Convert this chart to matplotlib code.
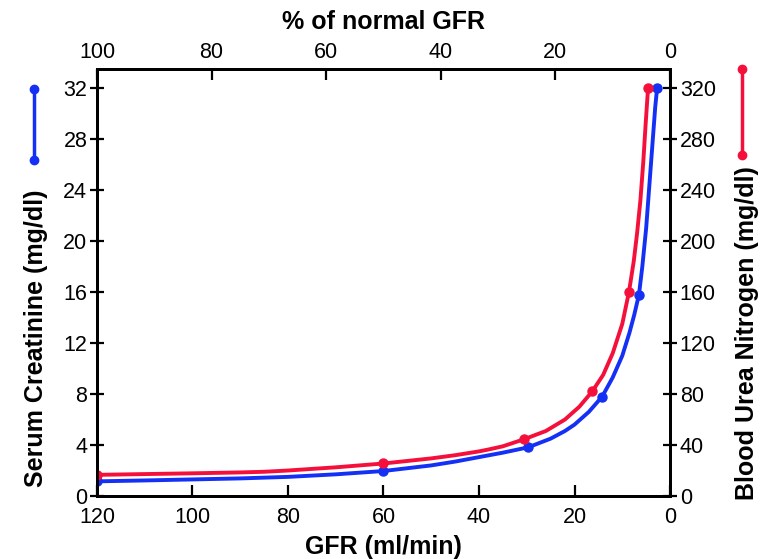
import matplotlib
matplotlib.use("Agg")
import matplotlib.pyplot as plt
from matplotlib.lines import Line2D

plt.rcParams['font.family'] = ['Liberation Sans', 'DejaVu Sans']

# marker points (GFR ml/min, value)
cr_gfr = [120, 60, 29.7, 14.2, 6.5, 2.7]
cr_val = [1.15, 1.96, 3.82, 7.8, 15.8, 32.0]
bun_gfr = [120, 60, 30.5, 16.3, 8.6, 4.6]
bun_val = [16.6, 25.5, 44.6, 82, 160, 320]

# curve traces
cr_curve_gfr = [120, 110, 100, 90, 80, 70, 60, 50, 45, 40, 35, 29.7, 25, 22, 20, 17,
                14.2, 12, 10, 8.5, 7.5, 6.5, 5.8, 5.0, 4.3, 3.6, 3.1, 2.7]
cr_curve_val = [1.15, 1.22, 1.3, 1.38, 1.5, 1.7, 1.96, 2.4, 2.7, 3.05, 3.4, 3.82, 4.5, 5.1,
                5.6, 6.6, 7.8, 9.3, 11.0, 12.8, 14.2, 15.8, 18.0, 21.0, 24.5, 28.0, 30.5, 32.0]
bun_curve_gfr = [120, 110, 100, 90, 85, 80, 70, 60, 50, 45, 40, 38, 35, 30.5, 26, 22, 19,
                 16.3, 14, 12, 10, 8.6, 7.6, 6.9, 6.2, 5.6, 5.1, 4.6]
bun_curve_val = [16.6, 17.2, 17.8, 18.5, 19.0, 20.0, 22.5, 25.5, 29.5, 32.0, 35.0, 36.5, 39.0,
                 44.6, 51, 60, 70, 82, 95, 112, 135, 160, 184, 206, 232, 262, 292, 320]

x_ticks = [120, 100, 80, 60, 40, 20, 0]
pct_ticks = [100, 80, 60, 40, 20, 0]
cr_ticks = [0, 4, 8, 12, 16, 20, 24, 28, 32]
bun_ticks = [0, 40, 80, 120, 160, 200, 240, 280, 320]

blue = '#1530f5'
red = '#f5103c'

fig = plt.figure(figsize=(7.6, 5.59), dpi=100)
ax = fig.add_axes([0.1276, 0.1127, 0.754, 0.7639])

ax.plot(cr_curve_gfr, cr_curve_val, color=blue, lw=2.8, solid_capstyle='round',
        solid_joinstyle='round', zorder=3)
ax.plot(cr_gfr, cr_val, 'o', color=blue, ms=6.5, zorder=4)
ax.set_xlim(120, 0)
ax.set_ylim(0, 33.5)
ax.set_xticks(x_ticks)
ax.set_yticks(cr_ticks)
ax.tick_params(axis='y', direction='inout', length=10, width=1.6, labelsize=15.5, pad=2)
ax.tick_params(axis='x', direction='in', length=8, width=1.6, labelsize=15.5, pad=8)
for s in ax.spines.values():
    s.set_linewidth(2)
ax.set_xlabel('GFR (ml/min)', fontsize=18, fontweight='bold', labelpad=5)
ax.set_ylabel('Serum Creatinine (mg/dl)', fontsize=18, fontweight='bold',
              va='center', ha='center')
ax.yaxis.set_label_coords(-0.1065, 0.37)

ax2 = ax.twinx()
ax2.plot(bun_curve_gfr, bun_curve_val, color=red, lw=2.8, solid_capstyle='round',
         solid_joinstyle='round', zorder=3)
ax2.plot(bun_gfr, bun_val, 'o', color=red, ms=6.5, zorder=4)
ax2.set_ylim(0, 335)
ax2.set_yticks(bun_ticks)
ax2.tick_params(axis='y', direction='inout', length=10, width=1.6, labelsize=15.5, pad=2)
ax2.set_ylabel('Blood Urea Nitrogen (mg/dl)', fontsize=18, fontweight='bold',
               rotation=90, va='center', ha='center')
ax2.yaxis.set_label_coords(1.134, 0.382)
ax2.set_xlim(120, 0)

ax3 = ax.twiny()
ax3.set_xlim(100, 0)
ax3.set_xticks(pct_ticks)
ax3.tick_params(axis='x', direction='in', length=8, width=1.6, labelsize=15.5, pad=4)
ax3.set_xlabel('% of normal GFR', fontsize=18, fontweight='bold', labelpad=10)
for a in (ax2, ax3):
    for s in a.spines.values():
        s.set_linewidth(2)

# key marks beside the y labels
W, H = 760, 559
fig.add_artist(Line2D([34 / W, 34 / W], [1 - 89 / H, 1 - 160 / H], color=blue, lw=2.5,
                      marker='o', ms=6))
fig.add_artist(Line2D([742 / W, 742 / W], [1 - 69 / H, 1 - 155 / H], color=red, lw=2.5,
                      marker='o', ms=6))

fig.savefig('out.png', dpi=100)
